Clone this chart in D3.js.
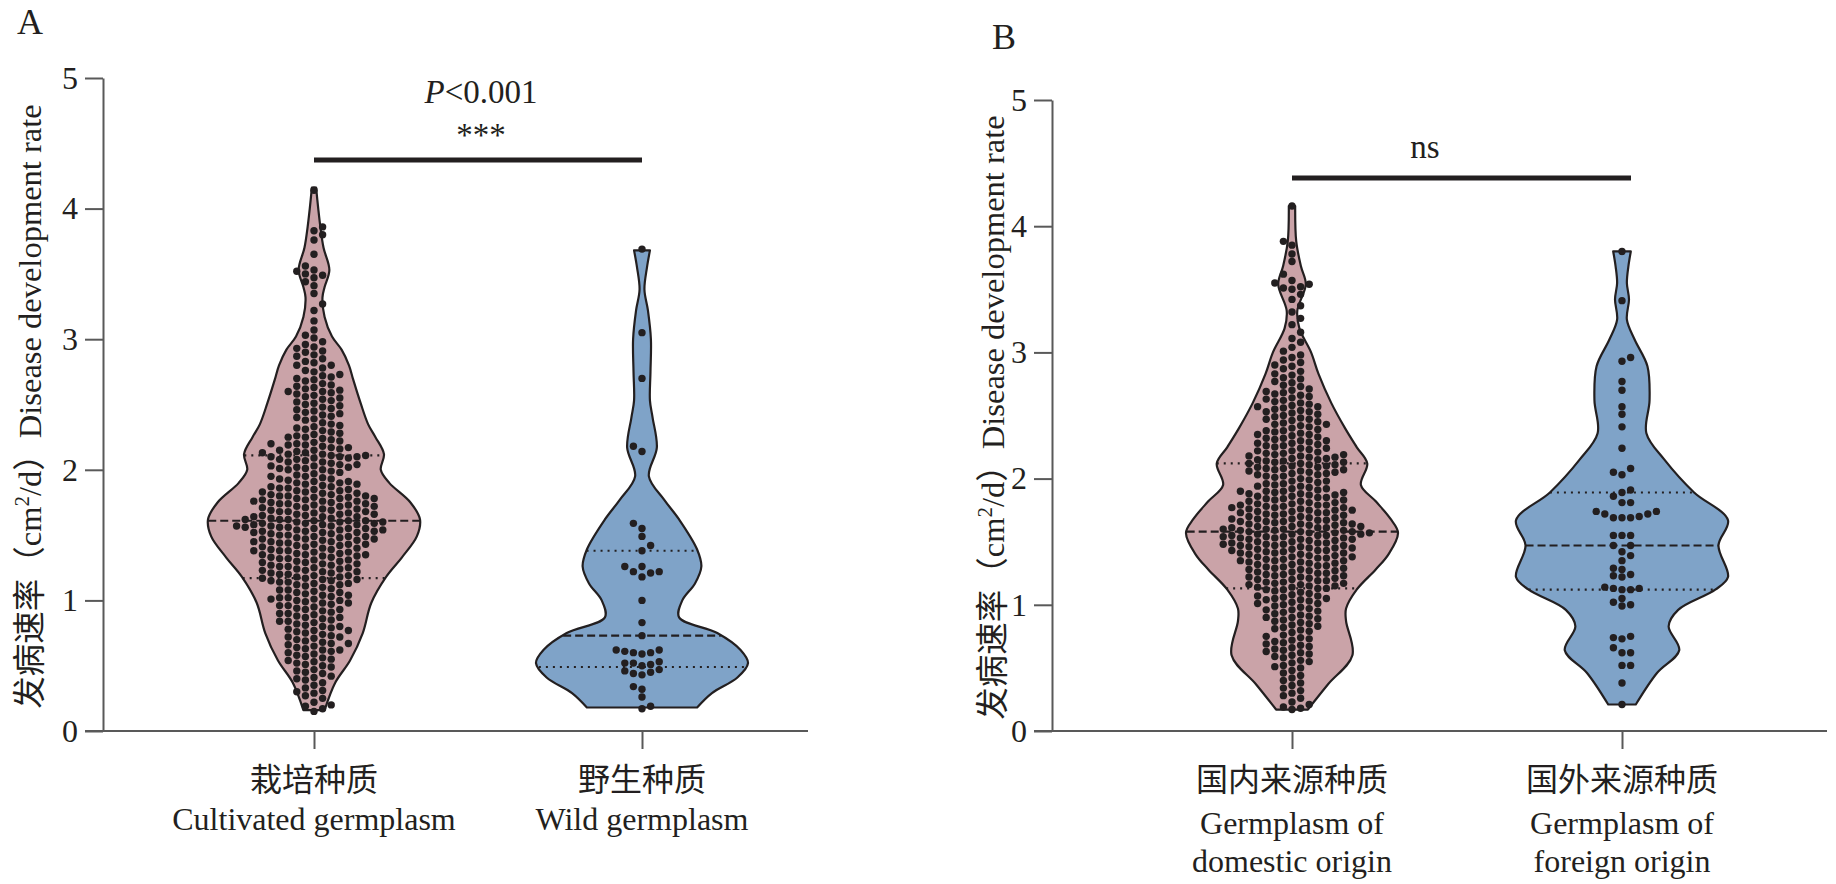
<!DOCTYPE html>
<html lang="zh">

<head>
    <meta charset="UTF-8">
    <script src="https://cdnjs.cloudflare.com/ajax/libs/d3/7.9.0/d3.min.js"></script>
    <title>Disease development rate violin plots</title>
    <style>
        body {
            margin: 0;
            background-color: white;
        }

        svg {
            display: block;
            font-family: "Liberation Serif", "Noto Sans CJK SC", serif;
        }
    </style>
</head>

<body>
    <div id="chart"></div>
    <script>
        // ---- data ----
        const yTicks = [0, 1, 2, 3, 4, 5];

        const catsA = ["栽培种质", "野生种质"];
        const labelsA = [["栽培种质", "Cultivated germplasm"], ["野生种质", "Wild germplasm"]];
        const catsB = ["国内来源种质", "国外来源种质"];
        const labelsB = [["国内来源种质", "Germplasm of", "domestic origin"], ["国外来源种质", "Germplasm of", "foreign origin"]];

        const cultivated = [4.14,
            3.86, 3.83, 3.80, 3.76, 3.65,
            3.56, 3.53, 3.52, 3.50, 3.49, 3.47, 3.44, 3.41, 3.35, 3.27, 3.22, 3.14, 3.07, 3.03, 3.01,
            2.98, 2.96, 2.94, 2.93, 2.91, 2.90,
            2.88, 2.87, 2.85, 2.83, 2.82, 2.80, 2.80,
            2.78, 2.76, 2.75, 2.73, 2.72, 2.71, 2.70,
            2.69, 2.68, 2.66, 2.65, 2.64, 2.63, 2.62, 2.61, 2.60, 2.60,
            2.59, 2.58, 2.57, 2.56, 2.55, 2.54, 2.53, 2.52, 2.51, 2.50,
            2.49, 2.48, 2.47, 2.46, 2.45, 2.44, 2.43, 2.42, 2.41, 2.40,
            2.39, 2.38, 2.36, 2.35, 2.34, 2.33, 2.32, 2.31, 2.30,
            2.29, 2.28, 2.27, 2.26, 2.25, 2.25, 2.24, 2.23, 2.22, 2.21, 2.20, 2.20,
            2.19, 2.19, 2.18, 2.17, 2.17, 2.16, 2.15, 2.15, 2.14, 2.13, 2.13, 2.12, 2.12, 2.11, 2.11, 2.10, 2.10, 2.10,
            2.09, 2.09, 2.08, 2.08, 2.07, 2.06, 2.06, 2.05, 2.04, 2.04, 2.03, 2.03, 2.02, 2.02, 2.01, 2.01, 2.00, 2.00,
            1.99, 1.98, 1.97, 1.96, 1.95, 1.95, 1.94, 1.93, 1.93, 1.92, 1.91, 1.91, 1.90, 1.90,
            1.89, 1.89, 1.88, 1.87, 1.87, 1.86, 1.86, 1.85, 1.85, 1.84, 1.84, 1.83, 1.83, 1.82, 1.82, 1.81, 1.81, 1.80, 1.80, 1.80,
            1.79, 1.79, 1.78, 1.78, 1.78, 1.77, 1.77, 1.76, 1.76, 1.76, 1.75, 1.75, 1.74, 1.74, 1.74, 1.73, 1.73, 1.72, 1.72, 1.72, 1.71, 1.71, 1.70, 1.70,
            1.69, 1.69, 1.68, 1.68, 1.68, 1.67, 1.67, 1.66, 1.66, 1.66, 1.65, 1.65, 1.64, 1.64, 1.64, 1.63, 1.63, 1.62, 1.62, 1.62, 1.61, 1.61, 1.61, 1.60, 1.60, 1.60,
            1.59, 1.59, 1.59, 1.58, 1.58, 1.58, 1.57, 1.57, 1.57, 1.56, 1.56, 1.56, 1.55, 1.55, 1.55, 1.54, 1.54, 1.54, 1.53, 1.53, 1.53, 1.52, 1.52, 1.52, 1.51, 1.51, 1.50, 1.50,
            1.49, 1.49, 1.49, 1.48, 1.48, 1.47, 1.47, 1.47, 1.46, 1.46, 1.45, 1.45, 1.45, 1.44, 1.44, 1.43, 1.43, 1.43, 1.42, 1.42, 1.41, 1.41, 1.40, 1.40,
            1.39, 1.39, 1.38, 1.38, 1.38, 1.37, 1.37, 1.36, 1.36, 1.35, 1.35, 1.35, 1.34, 1.34, 1.33, 1.33, 1.32, 1.32, 1.31, 1.31, 1.30, 1.30,
            1.29, 1.29, 1.28, 1.28, 1.27, 1.27, 1.26, 1.26, 1.25, 1.25, 1.24, 1.24, 1.23, 1.23, 1.22, 1.22, 1.21, 1.21, 1.20, 1.20,
            1.19, 1.19, 1.18, 1.18, 1.17, 1.17, 1.16, 1.16, 1.15, 1.15, 1.14, 1.14, 1.13, 1.13, 1.12, 1.12, 1.11, 1.10,
            1.09, 1.08, 1.08, 1.07, 1.06, 1.06, 1.05, 1.04, 1.04, 1.03, 1.02, 1.02, 1.01, 1.01, 1.00, 1.00,
            0.99, 0.98, 0.98, 0.97, 0.96, 0.96, 0.95, 0.94, 0.93, 0.93, 0.92, 0.91, 0.90, 0.90,
            0.89, 0.88, 0.87, 0.87, 0.86, 0.85, 0.84, 0.84, 0.83, 0.82, 0.81, 0.80, 0.80,
            0.79, 0.78, 0.77, 0.77, 0.76, 0.75, 0.74, 0.73, 0.72, 0.72, 0.71, 0.70,
            0.69, 0.68, 0.67, 0.67, 0.66, 0.65, 0.64, 0.63, 0.62, 0.62, 0.61, 0.60,
            0.59, 0.58, 0.57, 0.56, 0.55, 0.54, 0.53, 0.52, 0.51, 0.50,
            0.49, 0.47, 0.46, 0.45, 0.44, 0.42, 0.41, 0.40,
            0.39, 0.37, 0.35, 0.33, 0.31, 0.30,
            0.29, 0.27, 0.25, 0.22, 0.20,
            0.19, 0.17, 0.15];

        const wild = [3.69, 3.05, 2.70, 2.18, 2.14, 1.59, 1.55, 1.49, 1.42, 1.38, 1.26, 1.26, 1.22, 1.22, 1.21, 1.18,
            1.00, 0.83, 0.73, 0.62, 0.61, 0.60, 0.60, 0.59, 0.62, 0.53, 0.52, 0.52, 0.51, 0.50, 0.47, 0.46, 0.45,
            0.44, 0.43, 0.34, 0.32, 0.26, 0.19, 0.17];

        const domestic = [4.16, 3.88, 3.85, 3.78, 3.72, 3.62, 3.57, 3.55, 3.54, 3.52, 3.51, 3.50, 3.46, 3.42, 3.37, 3.32,
            3.27, 3.22, 3.16, 3.11, 3.08, 3.04, 3.01,
            2.98, 2.96, 2.94, 2.92, 2.90,
            2.89, 2.87, 2.85, 2.83, 2.82, 2.80,
            2.79, 2.77, 2.76, 2.74, 2.73, 2.71, 2.70,
            2.69, 2.68, 2.67, 2.66, 2.65, 2.64, 2.63, 2.62, 2.61, 2.60,
            2.59, 2.58, 2.57, 2.57, 2.56, 2.55, 2.54, 2.53, 2.53, 2.52, 2.51, 2.50,
            2.49, 2.48, 2.47, 2.47, 2.46, 2.45, 2.44, 2.43, 2.43, 2.42, 2.41, 2.40,
            2.39, 2.38, 2.38, 2.37, 2.36, 2.35, 2.35, 2.34, 2.33, 2.32, 2.32, 2.31, 2.30, 2.30,
            2.29, 2.28, 2.28, 2.27, 2.26, 2.26, 2.25, 2.24, 2.24, 2.23, 2.22, 2.22, 2.21, 2.20, 2.20,
            2.19, 2.19, 2.18, 2.18, 2.17, 2.17, 2.16, 2.16, 2.15, 2.15, 2.14, 2.14, 2.13, 2.13, 2.12, 2.12, 2.11, 2.11, 2.10, 2.10,
            2.09, 2.09, 2.08, 2.08, 2.07, 2.07, 2.06, 2.06, 2.05, 2.05, 2.04, 2.04, 2.03, 2.03, 2.02, 2.02, 2.01, 2.00,
            1.99, 1.98, 1.98, 1.97, 1.96, 1.96, 1.95, 1.94, 1.94, 1.93, 1.92, 1.92, 1.91, 1.90, 1.90, 1.90,
            1.89, 1.89, 1.88, 1.88, 1.87, 1.87, 1.86, 1.86, 1.85, 1.85, 1.84, 1.84, 1.83, 1.83, 1.82, 1.82, 1.81, 1.81, 1.80, 1.80,
            1.79, 1.79, 1.79, 1.78, 1.78, 1.77, 1.77, 1.77, 1.76, 1.76, 1.75, 1.75, 1.75, 1.74, 1.74, 1.73, 1.73, 1.73, 1.72, 1.72, 1.71, 1.71, 1.70, 1.70,
            1.69, 1.69, 1.68, 1.68, 1.68, 1.67, 1.67, 1.66, 1.66, 1.66, 1.65, 1.65, 1.64, 1.64, 1.64, 1.63, 1.63, 1.62, 1.62, 1.62, 1.61, 1.61, 1.61, 1.60, 1.60, 1.60,
            1.59, 1.59, 1.59, 1.58, 1.58, 1.58, 1.57, 1.57, 1.57, 1.56, 1.56, 1.56, 1.55, 1.55, 1.55, 1.54, 1.54, 1.54, 1.53, 1.53, 1.53, 1.52, 1.52, 1.52, 1.51, 1.51, 1.50, 1.50,
            1.49, 1.49, 1.49, 1.48, 1.48, 1.48, 1.47, 1.47, 1.47, 1.46, 1.46, 1.45, 1.45, 1.45, 1.44, 1.44, 1.43, 1.43, 1.43, 1.42, 1.42, 1.41, 1.41, 1.41, 1.40, 1.40,
            1.39, 1.39, 1.38, 1.38, 1.38, 1.37, 1.37, 1.36, 1.36, 1.35, 1.35, 1.35, 1.34, 1.34, 1.33, 1.33, 1.32, 1.32, 1.31, 1.31, 1.30, 1.30,
            1.29, 1.29, 1.28, 1.28, 1.27, 1.27, 1.26, 1.26, 1.25, 1.25, 1.24, 1.24, 1.23, 1.23, 1.22, 1.22, 1.21, 1.21, 1.20, 1.20,
            1.19, 1.19, 1.18, 1.18, 1.17, 1.17, 1.16, 1.16, 1.15, 1.15, 1.14, 1.14, 1.13, 1.13, 1.12, 1.12, 1.11, 1.10,
            1.09, 1.08, 1.07, 1.07, 1.06, 1.05, 1.05, 1.04, 1.04, 1.03, 1.02, 1.01, 1.01, 1.00,
            0.99, 0.98, 0.97, 0.96, 0.96, 0.95, 0.94, 0.93, 0.92, 0.91, 0.90, 0.90,
            0.89, 0.88, 0.87, 0.86, 0.85, 0.84, 0.83, 0.82, 0.81, 0.80,
            0.79, 0.78, 0.76, 0.75, 0.74, 0.73, 0.72, 0.71, 0.70,
            0.69, 0.68, 0.67, 0.66, 0.65, 0.64, 0.63, 0.62, 0.61, 0.60,
            0.59, 0.58, 0.56, 0.55, 0.54, 0.52, 0.51, 0.50,
            0.48, 0.46, 0.44, 0.42, 0.40,
            0.38, 0.36, 0.34, 0.32, 0.30,
            0.28, 0.26, 0.23, 0.21,
            0.19, 0.18, 0.17];

        const foreign = [3.80, 3.41, 2.96, 2.93, 2.77, 2.70, 2.57, 2.51, 2.41, 2.24, 2.08, 2.05, 2.03, 1.91, 1.89, 1.86,
            1.81, 1.81, 1.74, 1.74, 1.72, 1.72, 1.70, 1.69, 1.69, 1.69, 1.55, 1.55, 1.55, 1.47, 1.47, 1.42, 1.39, 1.35,
            1.29, 1.28, 1.24, 1.23, 1.22, 1.14, 1.13, 1.13, 1.12, 1.12, 1.05, 1.02, 1.00, 0.99, 0.75, 0.74, 0.73, 0.66,
            0.62, 0.62, 0.52, 0.52, 0.38, 0.21];

        // violin outlines: [value, relative density]
        const cultivatedShape = [[4.16, 0.02], [4.0, 0.04], [3.86, 0.06], [3.7, 0.09], [3.53, 0.145], [3.4, 0.10],
        [3.32, 0.08], [3.17, 0.10], [3.02, 0.17], [2.92, 0.26], [2.8, 0.33], [2.69, 0.37], [2.51, 0.44], [2.35, 0.51],
        [2.25, 0.58], [2.12, 0.66], [2.0, 0.63], [1.9, 0.71], [1.75, 0.91], [1.62, 1.0], [1.49, 0.97], [1.33, 0.83],
        [1.18, 0.68], [0.98, 0.54], [0.75, 0.46], [0.54, 0.34], [0.37, 0.20], [0.16, 0.10]];

        const wildShape = [[3.68, 0.075], [3.55, 0.047], [3.38, 0.023], [3.22, 0.056], [3.0, 0.084], [2.75, 0.08],
        [2.53, 0.075], [2.4, 0.10], [2.17, 0.14], [1.95, 0.065], [1.77, 0.21], [1.62, 0.35], [1.39, 0.52],
        [1.26, 0.56], [1.13, 0.50], [1.0, 0.38], [0.87, 0.35], [0.75, 0.71], [0.62, 0.93], [0.52, 1.0],
        [0.41, 0.90], [0.29, 0.66], [0.18, 0.52]];

        const domesticShape = [[4.16, 0.03], [3.88, 0.04], [3.68, 0.085], [3.54, 0.13], [3.33, 0.05], [3.19, 0.07],
        [3.0, 0.18], [2.83, 0.25], [2.6, 0.37], [2.4, 0.50], [2.25, 0.61], [2.12, 0.71], [1.95, 0.65], [1.82, 0.79],
        [1.68, 0.93], [1.57, 1.0], [1.4, 0.91], [1.28, 0.79], [1.12, 0.61], [0.97, 0.51], [0.87, 0.51], [0.6, 0.57],
        [0.37, 0.34], [0.17, 0.15]];

        const foreignShape = [[3.80, 0.083], [3.68, 0.06], [3.55, 0.046], [3.42, 0.066], [3.26, 0.046], [3.10, 0.12],
        [2.89, 0.24], [2.62, 0.26], [2.36, 0.23], [2.15, 0.40], [1.89, 0.68], [1.67, 1.0], [1.47, 0.91], [1.22, 1.0],
        [1.12, 0.88], [0.96, 0.53], [0.83, 0.44], [0.64, 0.54], [0.46, 0.33], [0.21, 0.13]];

        // quartile lines [Q1, median, Q3]
        const cultivatedQ = [1.17, 1.61, 2.11];
        const wildQ = [0.49, 0.73, 1.38];
        const domesticQ = [1.13, 1.58, 2.12];
        const foreignQ = [1.12, 1.47, 1.89];

        // ---- styling ----
        const width = 1836;
        const height = 884;
        const pink = "#caa3a8";
        const blue = "#7fa3c8";
        const ink = "#231f20";
        const axisColor = "#595959";
        const dotR = 3.7;
        const colStep = 8.6;
        const minSep = 6.8;
        const halfMax = 106;

        const svg = d3.select("#chart")
            .append("svg")
            .attr("width", width)
            .attr("height", height);

        const w = d3.scaleLinear().domain([0, 1]).range([0, halfMax]);

        // linear lookup of the outline width at a value
        const densityAt = (shape, v) => {
            for (let i = 0; i < shape.length - 1; i++) {
                const a = shape[i], b = shape[i + 1];
                if (v <= a[0] && v >= b[0]) {
                    return a[1] + (b[1] - a[1]) * (a[0] - v) / (a[0] - b[0]);
                }
            }
            return 0;
        };

        // simple column beeswarm
        const swarm = (values, y, cx) => {
            const sorted = values.slice().sort((a, b) => a - b);
            const cols = new Map();
            return sorted.map((v, i) => {
                const py = y(v);
                for (let k = 0; k < 40; k++) {
                    const order = k === 0 ? [0] : (i % 2 ? [k, -k] : [-k, k]);
                    for (const s of order) {
                        const list = cols.get(s) || [];
                        if (list.every(q => Math.abs(q - py) >= minSep)) {
                            list.push(py);
                            cols.set(s, list);
                            return { x: cx + s * colStep, y: py };
                        }
                    }
                }
                return { x: cx, y: py };
            });
        };

        const panels = [
            {
                letter: "A", letterX: 17, letterY: 34,
                axisX: 103, y0: 731, y5: 78, xEnd: 808, catRange: [314, 642],
                labelX: 41, cats: catsA, labels: labelsA, labelYs: [791, 830],
                groups: [cultivated, wild], shapes: [cultivatedShape, wildShape], quarts: [cultivatedQ, wildQ],
                fills: [pink, blue], bracketY: 160, bracketPad: 0, sig: "A", sigX: 481
            },
            {
                letter: "B", letterX: 992, letterY: 49,
                axisX: 1052, y0: 731, y5: 100, xEnd: 1827, catRange: [1292, 1622],
                labelX: 1004, cats: catsB, labels: labelsB, labelYs: [791, 834, 872],
                groups: [domestic, foreign], shapes: [domesticShape, foreignShape], quarts: [domesticQ, foreignQ],
                fills: [pink, blue], bracketY: 178, bracketPad: 9, sig: "B", sigX: 1425
            }
        ];

        panels.forEach(p => {
            const y = d3.scaleLinear().domain([0, 5]).range([p.y0, p.y5]);
            const x = d3.scalePoint().domain(p.cats).range(p.catRange);
            const g = svg.append("g");

            // Y axis
            g.append("g")
                .attr("transform", `translate(${p.axisX},0)`)
                .call(d3.axisLeft(y).tickValues(yTicks).tickFormat(d3.format("d")).tickSize(18).tickSizeOuter(0).tickPadding(7))
                .attr("font-family", null)
                .attr("font-size", 32)
                .call(a => a.select(".domain").attr("stroke", axisColor).attr("stroke-width", 2))
                .call(a => a.selectAll(".tick line").attr("stroke", axisColor).attr("stroke-width", 2))
                .call(a => a.selectAll(".tick text").attr("fill", ink));

            // X axis
            g.append("line")
                .attr("x1", p.axisX - 18).attr("x2", p.xEnd)
                .attr("y1", y(0)).attr("y2", y(0))
                .attr("stroke", axisColor).attr("stroke-width", 2);

            g.append("g")
                .attr("transform", `translate(0,${y(0)})`)
                .call(d3.axisBottom(x).tickSize(18).tickSizeOuter(0).tickFormat(""))
                .call(a => a.select(".domain").remove())
                .call(a => a.selectAll(".tick line").attr("stroke", axisColor).attr("stroke-width", 2));

            // category labels
            p.labels.forEach((lines, i) => {
                lines.forEach((t, j) => {
                    g.append("text")
                        .attr("x", x(p.cats[i]))
                        .attr("y", p.labelYs[j])
                        .attr("text-anchor", "middle")
                        .attr("font-size", 32)
                        .attr("fill", ink)
                        .text(t);
                });
            });

            // violins
            p.groups.forEach((vals, i) => {
                const cx = x(p.cats[i]);
                const shape = p.shapes[i];
                const area = d3.area()
                    .curve(d3.curveCatmullRom)
                    .y(d => y(d[0]))
                    .x0(d => cx - w(d[1]))
                    .x1(d => cx + w(d[1]));

                g.append("path")
                    .datum(shape)
                    .attr("d", area)
                    .attr("fill", p.fills[i])
                    .attr("stroke", ink)
                    .attr("stroke-width", 2.2)
                    .attr("stroke-linejoin", "round");

                g.selectAll(null)
                    .data(p.quarts[i])
                    .enter()
                    .append("line")
                    .attr("x1", d => cx - w(densityAt(shape, d)))
                    .attr("x2", d => cx + w(densityAt(shape, d)))
                    .attr("y1", d => y(d))
                    .attr("y2", d => y(d))
                    .attr("stroke", ink)
                    .attr("stroke-width", 2.2)
                    .attr("stroke-dasharray", (d, k) => k === 1 ? "8,4" : "2,5");

                g.selectAll(null)
                    .data(swarm(vals, y, cx))
                    .enter()
                    .append("circle")
                    .attr("cx", d => d.x)
                    .attr("cy", d => d.y)
                    .attr("r", dotR)
                    .attr("fill", ink);
            });

            // significance bracket
            g.append("line")
                .attr("x1", x(p.cats[0])).attr("x2", x(p.cats[1]) + p.bracketPad)
                .attr("y1", p.bracketY).attr("y2", p.bracketY)
                .attr("stroke", ink).attr("stroke-width", 5);

            if (p.sig === "A") {
                const t = g.append("text")
                    .attr("x", p.sigX).attr("y", 103)
                    .attr("text-anchor", "middle").attr("font-size", 33).attr("fill", ink);
                t.append("tspan").attr("font-style", "italic").text("P");
                t.append("tspan").text("<0.001");
                g.append("text")
                    .attr("x", p.sigX).attr("y", 146)
                    .attr("text-anchor", "middle").attr("font-size", 33).attr("fill", ink)
                    .text("***");
            } else {
                g.append("text")
                    .attr("x", p.sigX).attr("y", 158)
                    .attr("text-anchor", "middle").attr("font-size", 33).attr("fill", ink)
                    .text("ns");
            }

            // Y axis title
            const yt = g.append("text")
                .attr("transform", `translate(${p.labelX},${(p.y0 + p.y5) / 2 + 2}) rotate(-90)`)
                .attr("text-anchor", "middle")
                .attr("font-size", 32.5)
                .attr("fill", ink);
            yt.append("tspan").text("发病速率（cm");
            yt.append("tspan").attr("font-size", 21).attr("dy", -12).text("2");
            yt.append("tspan").attr("dy", 12).text("/d）Disease development rate");

            // panel letter
            g.append("text")
                .attr("x", p.letterX).attr("y", p.letterY)
                .attr("font-size", 36).attr("fill", ink)
                .text(p.letter);
        });
    </script>
</body>

</html>
